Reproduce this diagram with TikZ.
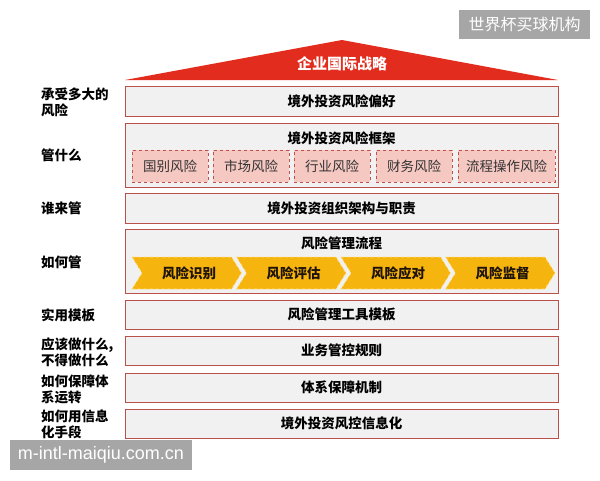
\documentclass[tikz,border=0pt]{standalone}
\usepackage{fontspec}
\setmainfont{Noto Sans CJK SC}
\newfontfamily\wmfont{Liberation Sans}
\definecolor{roofred}{RGB}{226,44,30}
\definecolor{boxfill}{RGB}{242,241,241}
\definecolor{boxline}{RGB}{185,80,74}
\definecolor{subfill}{RGB}{245,200,194}
\definecolor{subline}{RGB}{192,80,77}
\definecolor{chevfill}{RGB}{246,180,14}
\definecolor{chevline}{RGB}{255,226,140}
\definecolor{wmgray}{RGB}{166,166,166}
\tikzset{
  rowbox/.style={draw=boxline, fill=boxfill, line width=0.9pt, minimum width=433pt, inner sep=0pt, rectangle},
  rowtext/.style={font=\fontsize{13.5}{16}\selectfont\bfseries, text=black, inner sep=0pt},
  leftlab/.style={anchor=west, align=left, font=\fontsize{13.5}{16}\selectfont\bfseries, text=black, inner sep=0pt},
  subbox/.style={draw=subline, fill=subfill, dashed, line width=0.8pt, minimum height=32pt, inner sep=0pt, font=\fontsize{13.5}{16}\selectfont, text=black!80},
  chev/.style={fill=chevfill, draw=chevline, dashed, line width=0.7pt},
  chevtext/.style={font=\fontsize{13.5}{16}\selectfont\bfseries, text=black!85!brown, inner sep=0pt},
  wmbox/.style={fill=wmgray, text=white, inner sep=0pt, rectangle}
}
\begin{document}
\begin{tikzpicture}[x=1pt, y=-1pt]
\useasboundingbox (0,0) rectangle (600,480);
\fill[white] (0,0) rectangle (600,480);
% watermark top
\node[wmbox, minimum width=131pt, minimum height=29pt, font=\fontsize{16}{18}\selectfont] (wm1) at (524.5,24.5) {世界杯买球机构};
% roof
\fill[roofred] (125,80) -- (342,40) -- (558,80) -- cycle;
\node[font=\fontsize{15}{18}\selectfont\bfseries, text=white, inner sep=0pt] (roof) at (342,64) {企业国际战略};
% rows
\node[rowbox, minimum height=30pt] (r1) at (341.5,101) {};
\node[rowtext] (t1) at (r1.center) {境外投资风险偏好};
\node[rowbox, minimum height=64pt] (r2) at (341.5,155) {};
\node[rowtext] (t2) at (341.5,138) {境外投资风险框架};
\node[rowbox, minimum height=30pt] (r3) at (341.5,208) {};
\node[rowtext] (t3) at (r3.center) {境外投资组织架构与职责};
\node[rowbox, minimum height=64pt] (r4) at (341.5,261) {};
\node[rowtext] (t4) at (341.5,243) {风险管理流程};
\node[rowbox, minimum height=29pt] (r5) at (341.5,314.5) {};
\node[rowtext] (t5) at (r5.center) {风险管理工具模板};
\node[rowbox, minimum height=29pt] (r6) at (341.5,350.5) {};
\node[rowtext] (t6) at (r6.center) {业务管控规则};
\node[rowbox, minimum height=29pt] (r7) at (341.5,387.5) {};
\node[rowtext] (t7) at (r7.center) {体系保障机制};
\node[rowbox, minimum height=29pt] (r8) at (341.5,423.5) {};
\node[rowtext] (t8) at (r8.center) {境外投资风控信息化};
% sub boxes
\node[subbox, minimum width=76pt] (s1) at (170,166) {国别风险};
\node[subbox, minimum width=76pt] (s2) at (251,166) {市场风险};
\node[subbox, minimum width=76pt] (s3) at (332,166) {行业风险};
\node[subbox, minimum width=76pt] (s4) at (414,166) {财务风险};
\node[subbox, minimum width=97pt] (s5) at (506.5,166) {流程操作风险};
% chevrons
\foreach \i/\txt in {0/风险识别,1/风险评估,2/风险应对,3/风险监督}{
  \pgfmathsetmacro{\L}{132+\i*104.5}
  \pgfmathsetmacro{\R}{\L+109.5}
  \path[chev] (\L,257) -- (\R-10,257) -- (\R,273) -- (\R-10,289) -- (\L,289) -- (\L+10,273) -- cycle;
  \node[chevtext] (c\i) at (\L+57,273) {\txt};
}
% left labels
\node[leftlab] (l1) at (41,102) {承受多大的\\风险};
\node[leftlab] (l2) at (41,155) {管什么};
\node[leftlab] (l3) at (41,208) {谁来管};
\node[leftlab] (l4) at (41,262) {如何管};
\node[leftlab] (l5) at (41,315) {实用模板};
\node[leftlab] (l6) at (41,352) {应该做什么,\\不得做什么};
\node[leftlab] (l7) at (41,389) {如何保障体\\系运转};
\node[leftlab] (l8) at (41,424) {如何用信息\\化手段};
% watermark bottom
\node[wmbox, minimum width=182pt, minimum height=30pt, font=\wmfont\fontsize{18}{20}\selectfont] (wm2) at (101,455) {m-intl-maiqiu.com.cn};
\end{tikzpicture}
\end{document}
